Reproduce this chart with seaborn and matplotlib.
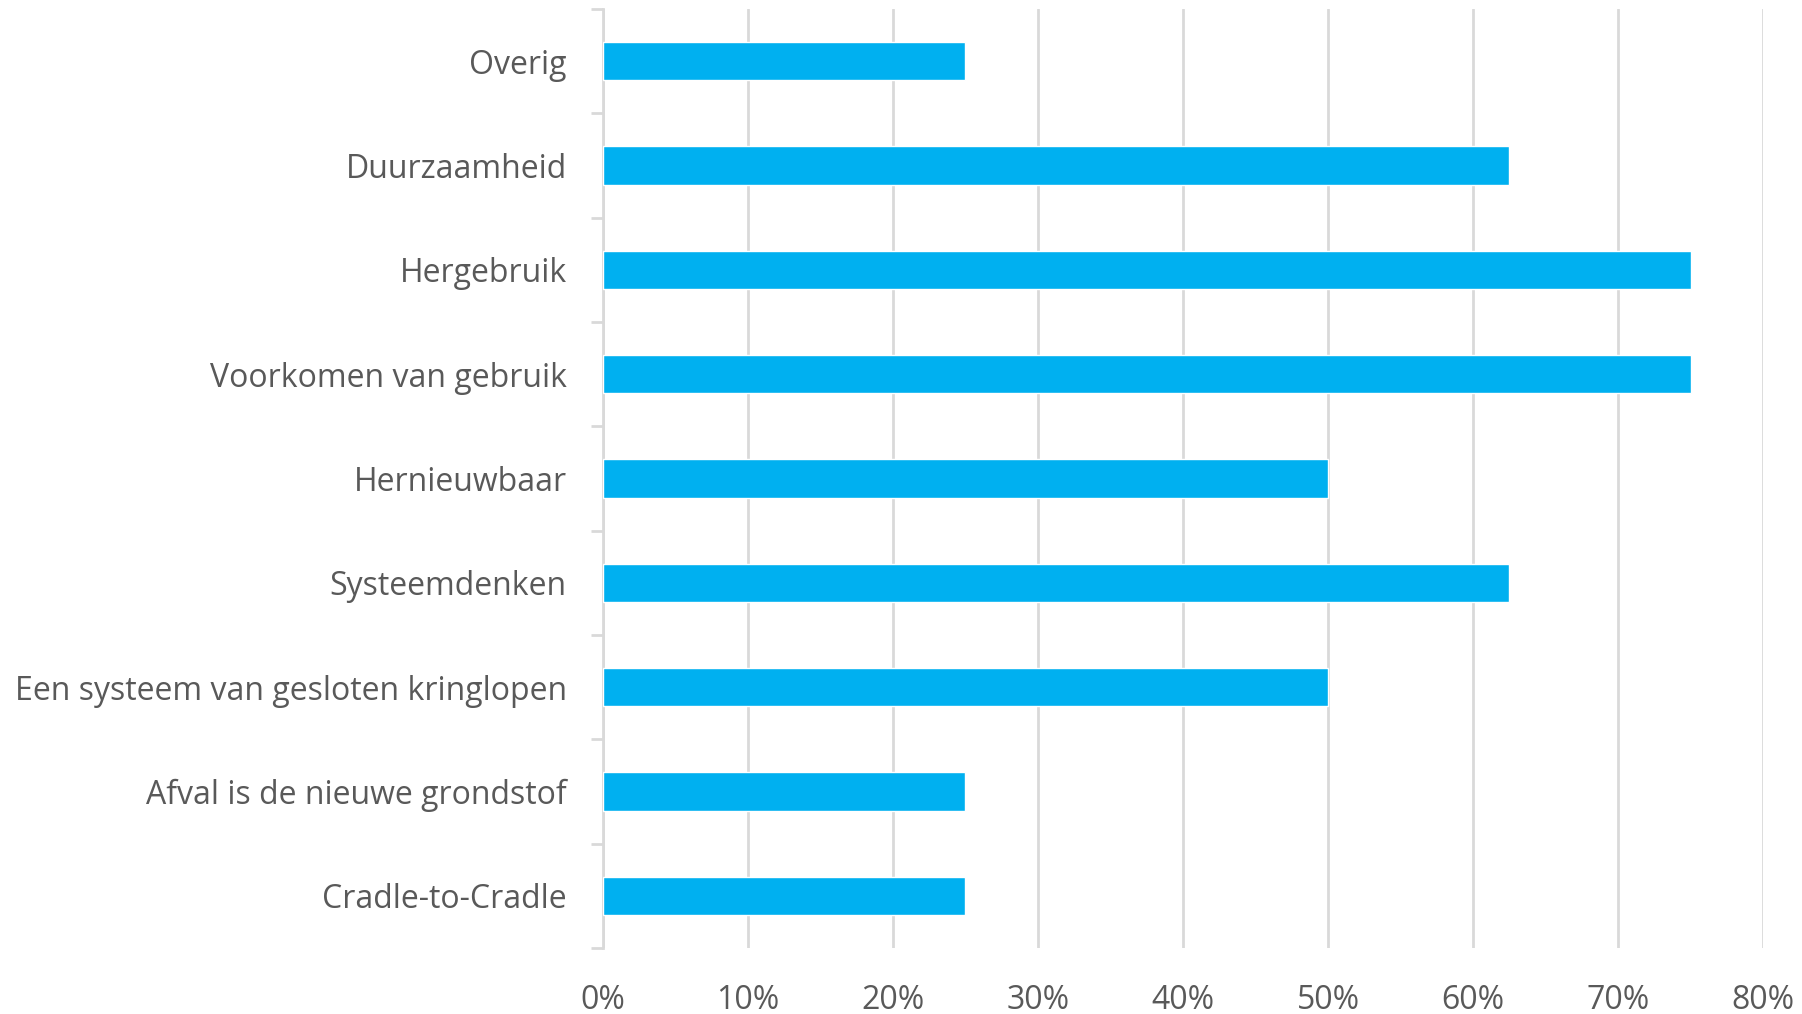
import matplotlib
matplotlib.use("Agg")
import matplotlib.pyplot as plt
import seaborn as sns
import pandas as pd
import numpy as np
from matplotlib.ticker import FixedLocator, PercentFormatter

categories = [
    "Overig",
    "Duurzaamheid",
    "Hergebruik",
    "Voorkomen van gebruik",
    "Hernieuwbaar",
    "Systeemdenken",
    "Een systeem van gesloten kringlopen",
    "Afval is de nieuwe grondstof",
    "Cradle-to-Cradle",
]
shares = [0.25, 0.625, 0.75, 0.75, 0.50, 0.625, 0.50, 0.25, 0.25]
x_ticks = [0.0, 0.1, 0.2, 0.3, 0.4, 0.5, 0.6, 0.7, 0.8]

BAR = "#00B0F0"
GRID = "#D9D9D9"
TEXT = "#595959"

sns.set_style("white")
plt.rcParams["font.family"] = ["Open Sans", "DejaVu Sans"]

df = pd.DataFrame({"categorie": categories, "aandeel": shares})

fig = plt.figure(figsize=(18.02, 10.14), dpi=100)
ax = fig.add_axes([0.3346, 0.0651, 0.9784 - 0.3346, 0.9911 - 0.0651])

sns.barplot(data=df, x="aandeel", y="categorie", order=categories,
            color=BAR, saturation=1, width=0.37, ax=ax, zorder=3)

ax.set_xlim(0, 0.8)
ax.set_ylim(len(categories) - 0.5, -0.5)
ax.set_xticks(x_ticks)
ax.xaxis.set_major_formatter(PercentFormatter(1.0, decimals=0))
ax.grid(axis="x", color=GRID, linewidth=2, zorder=0)
ax.grid(axis="y", visible=False)

for side in ("top", "right", "bottom"):
    ax.spines[side].set_visible(False)
ax.spines["left"].set_color(GRID)
ax.spines["left"].set_linewidth(2)

# category boundaries carry the outward ticks on the value axis
ax.yaxis.set_minor_locator(FixedLocator(np.arange(-0.5, len(categories), 1.0)))
ax.tick_params(axis="y", which="minor", length=9, width=2, color=GRID, left=True)
ax.tick_params(axis="y", which="major", length=0, pad=26, labelsize=23, labelcolor=TEXT)
ax.tick_params(axis="x", which="major", length=0, pad=26, labelsize=23, labelcolor=TEXT)

ax.set_xlabel("")
ax.set_ylabel("")

fig.savefig("out.png", dpi=100, facecolor="white")
